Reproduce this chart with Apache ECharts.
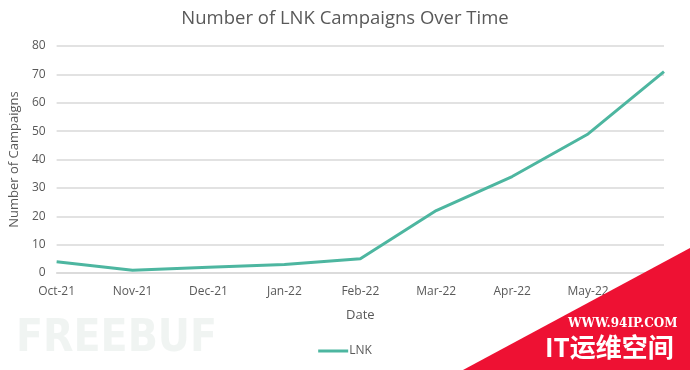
<!DOCTYPE html>
<html><head><meta charset="utf-8">
<script src="https://cdn.jsdelivr.net/npm/echarts@6/dist/echarts.min.js"></script>
<style>html,body{margin:0;padding:0;background:#fff}#c{width:690px;height:370px}</style>
</head><body><div id="c"></div>
<script>
const categories = ['Oct-21','Nov-21','Dec-21','Jan-22','Feb-22','Mar-22','Apr-22','May-22','Jun-22'];
const lnkValues = [4, 1, 2, 3, 5, 22, 34, 49, 71];
const seriesName = 'LNK';
const titleText = 'Number of LNK Campaigns Over Time';
const xName = 'Date';
const yName = 'Number of Campaigns';

const FONT = '"Open Sans", "Liberation Sans", sans-serif';
const GREY = '#595959';
const chart = echarts.init(document.getElementById('c'), null, {renderer: 'canvas'});
chart.setOption({
  animation: false,
  backgroundColor: '#fff',
  title: {text: titleText, left: 'center', top: 4,
    textStyle: {fontFamily: FONT, fontSize: 18.5, fontWeight: 'normal', color: GREY}},
  legend: {bottom: 8, left: 'center', itemWidth: 30, itemHeight: 3, itemGap: 4,
    icon: 'rect', data: [seriesName],
    textStyle: {fontFamily: FONT, fontSize: 12, color: GREY, padding: [0,0,0,-4]}},
  grid: {left: 56, right: 26, top: 46, bottom: 97, containLabel: false},
  xAxis: {type: 'category', data: categories, boundaryGap: false,
    name: xName, nameLocation: 'middle', nameGap: 36,
    nameTextStyle: {fontFamily: FONT, fontSize: 13, color: GREY},
    axisLine: {show: true, lineStyle: {color: '#d9d9d9', width: 1.5}},
    axisTick: {show: false},
    axisLabel: {fontFamily: FONT, fontSize: 12, color: GREY, margin: 13, interval: 0}},
  yAxis: {type: 'value', min: 0, max: 80, interval: 10,
    name: yName, nameLocation: 'middle', nameGap: 33,
    nameTextStyle: {fontFamily: FONT, fontSize: 13, color: GREY},
    axisLine: {show: false}, axisTick: {show: false},
    axisLabel: {fontFamily: FONT, fontSize: 12, color: GREY, margin: 11},
    splitLine: {lineStyle: {color: '#d9d9d9', width: 1.5}}},
  series: [{name: seriesName, type: 'line', data: lnkValues, showSymbol: false, symbol: 'none',
    lineStyle: {color: '#4db6a0', width: 3}, itemStyle: {color: '#4db6a0'}}],
  graphic: [
    {type: 'text', left: 16, top: 318, z: 0, style: {text: 'FREEBUF', fontFamily: '"Liberation Sans Narrow","DejaVu Sans Condensed",sans-serif',
      fontSize: 44, fontWeight: 'bold', fill: '#e4ebe7', opacity: 0.55}},
    {type: 'polygon', z: 100, shape: {points: [[463,370],[690,248],[690,370]]}, style: {fill: '#ee1133'}},
    {type: 'text', z: 101, left: 568, top: 318, style: {text: 'WWW.94IP.COM', fontFamily: '"DejaVu Serif", serif',
      fontSize: 12, fontWeight: 'bold', fill: '#fff'}},
    {type: 'text', z: 101, left: 545, top: 334, style: {text: 'IT运维空间', fontFamily: '"Noto Sans CJK SC", sans-serif',
      fontSize: 26, fontWeight: 'bold', fill: '#fff'}}
  ]
});
</script></body></html>
